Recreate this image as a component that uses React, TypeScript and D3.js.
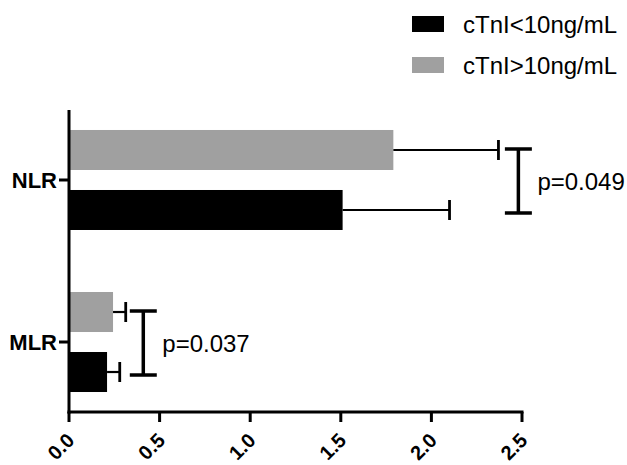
import React from "react";
import * as d3 from "d3";

const categories = ["NLR", "MLR"];
const seriesNames = ["cTnI>10ng/mL", "cTnI<10ng/mL"];
const seriesColors = ["#a0a0a0", "#000000"];
const highValues = [1.79, 0.243];
const highErrors = [0.58, 0.07];
const lowValues = [1.51, 0.21];
const lowErrors = [0.59, 0.07];
const xTicks = [0, 0.5, 1.0, 1.5, 2.0, 2.5];
const pLabels = ["p=0.049", "p=0.037"];
const bracketX = [2.48, 0.41];
const legendOrder = [1, 0];

const W = 627;
const H = 465;
const FONT = "'Liberation Sans', Arial, Helvetica, sans-serif";

export default function App() {
  const x = d3.scaleLinear().domain([0, 2.5]).range([69, 522]);
  const y = d3.scalePoint<string>().domain(categories).range([110, 412]).padding(0.432);
  const inner = d3.scaleBand<string>().domain(seriesNames).range([-50, 50]).paddingInner(1 / 3);
  const bw = inner.bandwidth();
  const values = [highValues, lowValues];
  const errors = [highErrors, lowErrors];

  return (
    <svg width={W} height={H} style={{ position: "absolute", left: 0, top: 0, background: "#fff" }} fontFamily={FONT}>
      {/* bars */}
      {categories.map((c, ci) =>
        seriesNames.map((s, si) => {
          const cy = (y(c) as number) + (inner(s) as number);
          const v = values[si][ci];
          const e = errors[si][ci];
          const mid = cy + bw / 2;
          return (
            <g key={c + s}>
              <rect x={x(0)} y={cy} width={x(v) - x(0)} height={bw} fill={seriesColors[si]} />
              <line x1={x(v)} x2={x(v + e)} y1={mid} y2={mid} stroke="#000" strokeWidth={2.2} />
              <line x1={x(v + e)} x2={x(v + e)} y1={mid - 10} y2={mid + 10} stroke="#000" strokeWidth={2.8} />
            </g>
          );
        })
      )}
      {/* significance brackets */}
      {categories.map((c, ci) => {
        const top = (y(c) as number) + (inner(seriesNames[0]) as number) + bw / 2 - 1;
        const bot = (y(c) as number) + (inner(seriesNames[1]) as number) + bw / 2 + 3;
        const bx = x(bracketX[ci]);
        return (
          <g key={"br" + c}>
            <line x1={bx} x2={bx} y1={top} y2={bot} stroke="#000" strokeWidth={3.5} />
            <line x1={bx - 13.5} x2={bx + 13.5} y1={top} y2={top} stroke="#000" strokeWidth={3.5} />
            <line x1={bx - 13.5} x2={bx + 13.5} y1={bot} y2={bot} stroke="#000" strokeWidth={3.5} />
            <text x={bx + 19} y={(top + bot) / 2 + 9} fontSize={24} fill="#000">
              {pLabels[ci]}
            </text>
          </g>
        );
      })}
      {/* y axis */}
      <line x1={x(0)} x2={x(0)} y1={110} y2={413.5} stroke="#000" strokeWidth={3} />
      {categories.map((c) => (
        <g key={"yt" + c}>
          <line x1={59} x2={x(0)} y1={y(c) as number} y2={y(c) as number} stroke="#000" strokeWidth={3} />
          <text x={57} y={y(c) as number} dy="0.36em" textAnchor="end" fontSize={22} fontWeight="bold" fill="#000">
            {c}
          </text>
        </g>
      ))}
      {/* x axis */}
      <line x1={x(0) - 1.5} x2={x(2.5) + 1.5} y1={412} y2={412} stroke="#000" strokeWidth={3} />
      {xTicks.map((t) => (
        <g key={"xt" + t}>
          <line x1={x(t)} x2={x(t)} y1={412} y2={422} stroke="#000" strokeWidth={3} />
          <text
            transform={`translate(${x(t) + 2},${437}) rotate(-45)`}
            dy="0.33em"
            textAnchor="end"
            fontSize={20}
            fontWeight="bold"
            fill="#000"
          >
            {t.toFixed(1)}
          </text>
        </g>
      ))}
      {/* legend */}
      {legendOrder.map((si, i) => (
        <g key={"lg" + si} transform={`translate(0,${i * 41})`}>
          <rect x={412} y={16} width={32} height={16} fill={seriesColors[si]} />
          <text x={463} y={33} fontSize={24} fill="#000">
            {seriesNames[si]}
          </text>
        </g>
      ))}
    </svg>
  );
}
